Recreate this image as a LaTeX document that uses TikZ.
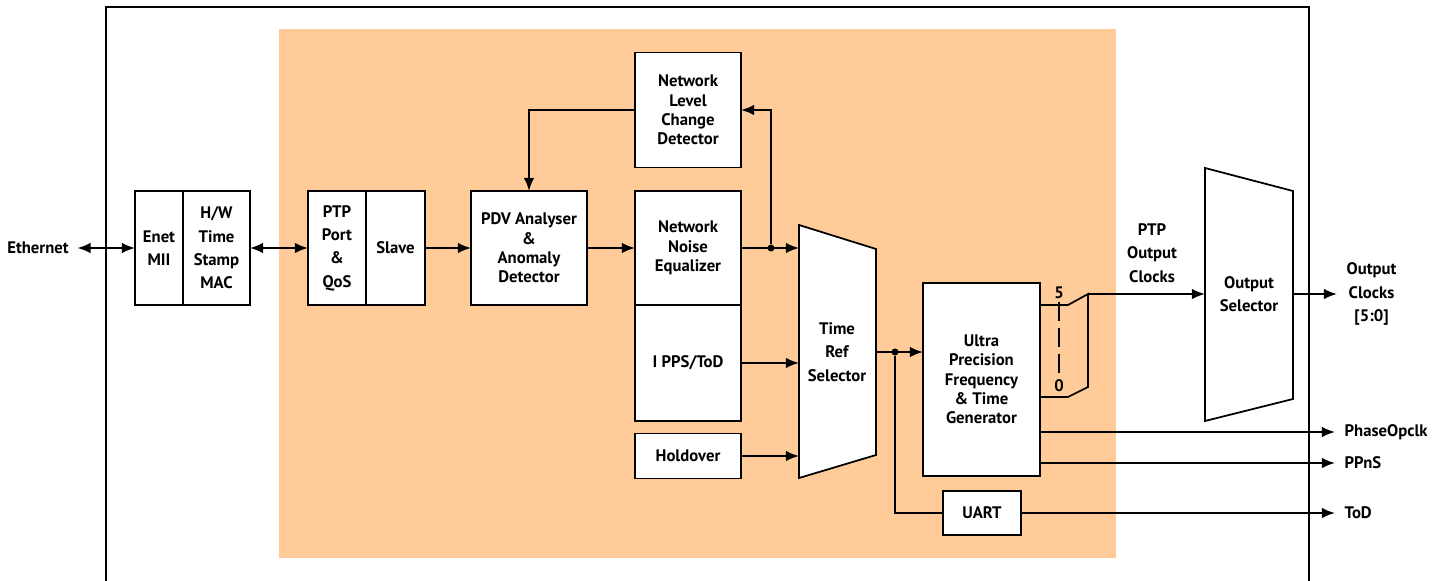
\documentclass[tikz,border=0pt]{standalone}
\usepackage{fontspec}
\setmainfont{PT Sans}
\usepackage{tikz}
\usetikzlibrary{
  positioning,
  arrows.meta
}
\usepackage{xcolor}
\definecolor{peach}{RGB}{255,204,153}

\begin{document}
\begin{tikzpicture}[x=0.02cm,y=-0.02cm,>={Latex[length=7.5pt,width=6pt]},line width=1pt,
        txt/.style={font=\fontsize{9.5}{11}\selectfont\bfseries, align=center, inner sep=1pt},
        txtw/.style={font=\fontsize{9.5}{13.3}\selectfont\bfseries, align=center, inner sep=1pt},
        blk/.style={txt, draw, fill=white, inner sep=0pt, outer sep=0pt},
        blkw/.style={txtw, draw, fill=white, inner sep=0pt, outer sep=0pt},
        lblr/.style={txtw, anchor=west, inner xsep=5pt},
        dot/.style={circle, fill, inner sep=0pt, minimum size=4pt}]
        \useasboundingbox (0,0) rectangle (1444,581);
        \draw (106,581) -- (106,7) -- (1309,7) -- (1309,581);
        \fill[peach] (279,29) rectangle (1116,558);

        % blocks
        \node[blkw, minimum width=0.96cm, minimum height=2.28cm] (enet) at (159,248) {Enet\\MII};
        \node[blkw, minimum width=1.34cm, minimum height=2.28cm, right=0pt of enet] (hw) {H/W\\Time\\Stamp\\MAC};
        \node[blkw, minimum width=1.16cm, minimum height=2.28cm] (ptp) at (337,248) {PTP\\Port\\\&\\QoS};
        \node[blkw, minimum width=1.18cm, minimum height=2.28cm, right=0pt of ptp] (slave) {Slave};
        \node[blk, minimum width=2.32cm, minimum height=2.28cm] (pdv) at (529,248) {PDV Analyser\\\&\\Anomaly\\Detector};
        \node[blk, minimum width=2.12cm, minimum height=2.28cm] (nne) at (688,248) {Network\\Noise\\Equalizer};
        \node[blk, minimum width=2.12cm, minimum height=2.32cm, below=0pt of nne] (ipps) {I PPS/ToD};
        \node[blk, minimum width=2.12cm, minimum height=2.3cm] (nlcd) at (688,110) {Network\\Level\\Change\\Detector};
        \node[blk, minimum width=2.12cm, minimum height=0.9cm] (hold) at (688,456) {Holdover};
        \node[blk, minimum width=2.34cm, minimum height=3.86cm] (upf) at (981.5,379.5) {Ultra\\Precision\\Frequency\\\& Time\\Generator};
        \node[blk, minimum width=1.56cm, minimum height=0.88cm] (uart) at (982,513) {UART};

        % selectors
        \draw[fill=white] (799,225) -- (876,249) -- (876,455) -- (799,478) -- cycle;
        \node[txtw] (trs) at (837,352) {Time\\Ref\\Selector};
        \draw[fill=white] (1205,168) -- (1293,191) -- (1293,399) -- (1205,421) -- cycle;
        \node[txtw] (osel) at (1249,294) {Output\\Selector};
        \coordinate (trsin) at (799,0);
        \coordinate (trsout) at (876,352);
        \coordinate (oselin) at (1205,294);
        \coordinate (oselout) at (1293,294);

        % labels
        \node[txt, inner xsep=4.5pt] (eth) at (38,248) {Ethernet};
        \node[txtw] (ptpclk) at (1152,253) {PTP\\Output\\Clocks};
        \node[lblr] (outclk) at (1337,294) {Output\\Clocks\\{[5:0]}};
        \node[lblr] (phase) at (1335,432) {PhaseOpclk};
        \node[lblr] (ppns) at (1335,463) {PPnS};
        \node[lblr] (tod) at (1335,513) {ToD};
        \node[txt] (n5) at (1059,293) {5};
        \node[txt] (n0) at (1059,386) {0};

        \node[dot] (tap1) at (771,248) {};
        \node[dot] (tap2) at (895,352) {};

        % connectors
        \draw[<->] (eth.east) -- (enet.west);
        \draw[<->] (hw.east) -- (ptp.west);
        \draw[->] (slave.east) -- (pdv.west);
        \draw[->] (pdv.east) -- (nne.west);
        \draw[->] (nne.east) -- (nne.east -| trsin);
        \draw[->] (tap1) |- (nlcd.east);
        \draw[->] (nlcd.west) -| (pdv.north);
        \draw[->] (ipps.east) -- (ipps.east -| trsin);
        \draw[->] (hold.east) -- (hold.east -| trsin);
        \draw[->] (trsout) -- (trsout -| upf.west);
        \draw (tap2) |- (uart.west);
        \draw[->] (uart.east) -- (tod.west);
        \draw[->] (upf.east |- phase.west) -- (phase.west);
        \draw[->] (upf.east |- ppns.west) -- (ppns.west);
        \draw[->] (oselout) -- (outclk.west);

        % output bus
        \coordinate (b5) at (1068,305);
        \coordinate (b5k) at (1088,294);
        \coordinate (b0) at (1068,397);
        \coordinate (b0k) at (1088,387);
        \draw (upf.east |- b5) -- (b5) -- (b5k) -- (b0k) -- (b0) -- (upf.east |- b0);
        \draw[->] (b5k) -- (oselin);
        \draw[dash pattern=on 0.38cm off 0.14cm] (n5.south) -- (n0.north);
    \end{tikzpicture}
\end{document}
